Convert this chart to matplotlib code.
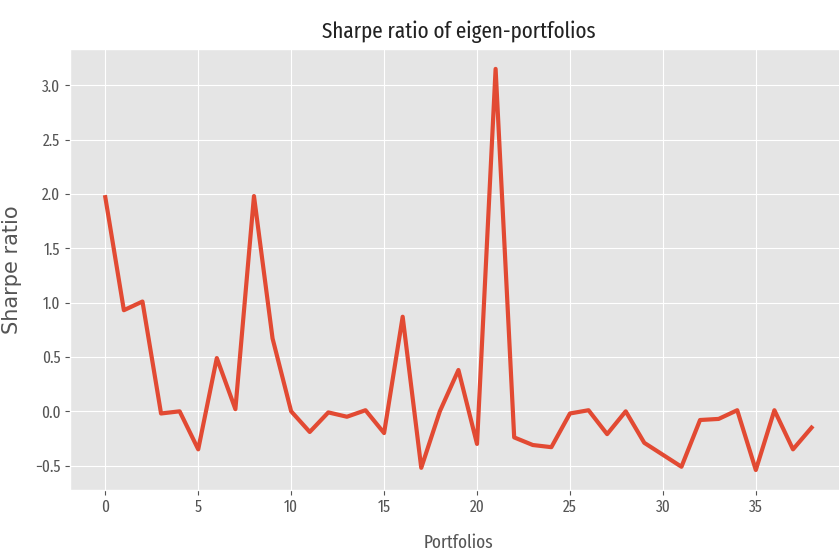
import matplotlib.pyplot as plt

plt.style.use('ggplot')
plt.rcParams['font.family'] = ['Fira Sans Extra Condensed', 'DejaVu Sans']

# Sharpe ratio for each eigen-portfolio
portfolios = list(range(39))
sharpe = [1.97, 0.93, 1.01, -0.02, 0.0, -0.35, 0.49, 0.02, 1.98, 0.67,
          0.0, -0.19, -0.01, -0.05, 0.01, -0.20, 0.87, -0.52, 0.0, 0.38,
          -0.30, 3.15, -0.24, -0.31, -0.33, -0.02, 0.01, -0.21, 0.0, -0.29,
          -0.40, -0.51, -0.08, -0.07, 0.01, -0.54, 0.01, -0.35, -0.15]

fig = plt.figure(figsize=(8.39, 5.55), dpi=100)
ax = fig.add_axes([0.0834, 0.117, 0.926, 0.795])
ax.plot(portfolios, sharpe, linewidth=3, color='#E24A33')
ax.set_title('Sharpe ratio of eigen-portfolios', fontsize=16.5, color='#222222', pad=8)
ax.set_xlabel('Portfolios', fontsize=13.5, labelpad=13)
ax.set_ylabel('Sharpe ratio', fontsize=15, family='DejaVu Sans', labelpad=9)
ax.tick_params(labelsize=12)

fig.savefig('out.png', dpi=100)
